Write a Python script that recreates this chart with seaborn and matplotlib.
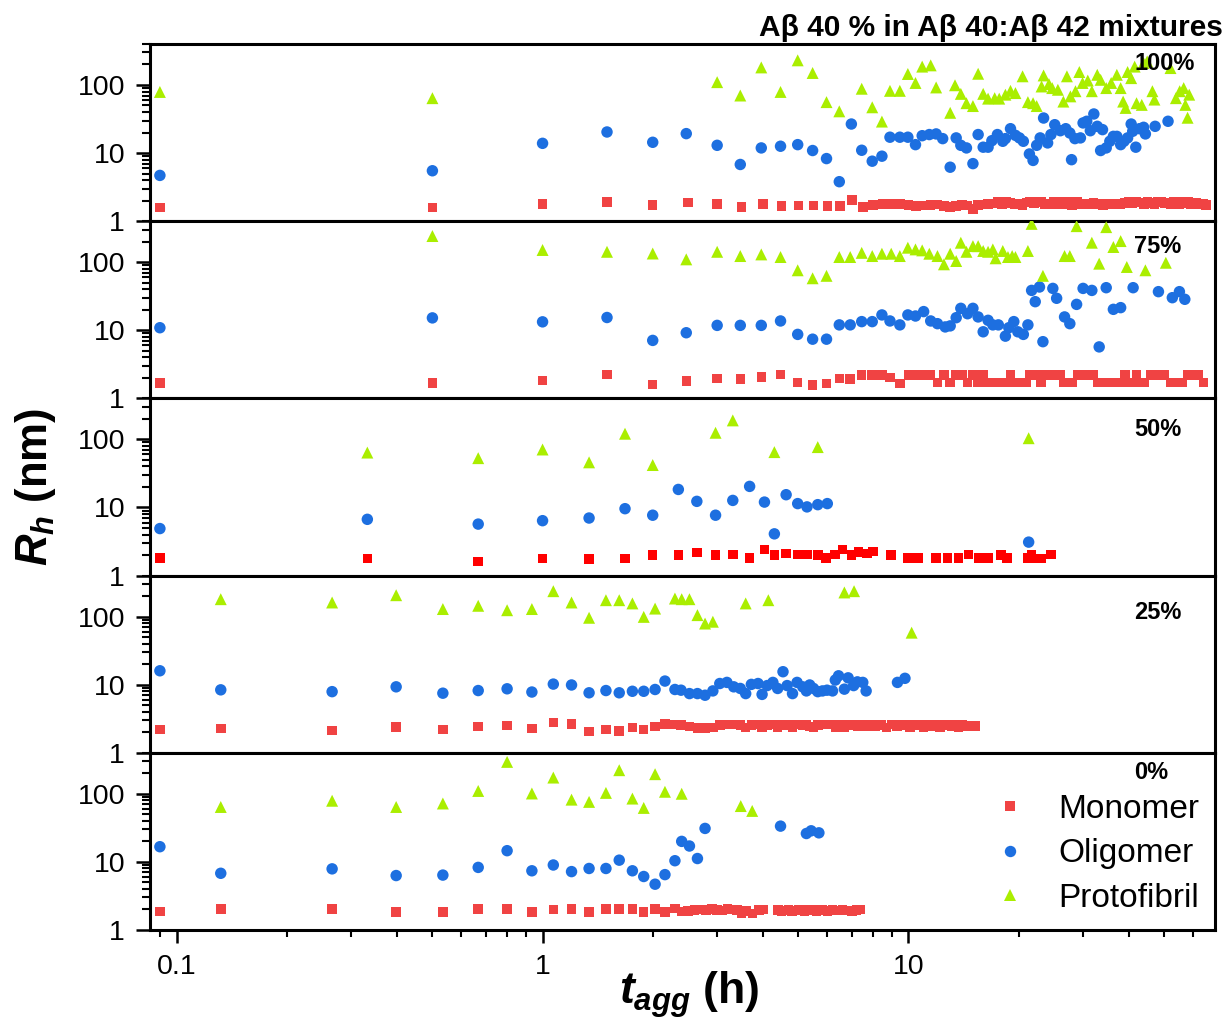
import matplotlib
matplotlib.use("Agg")
import matplotlib.pyplot as plt
from matplotlib.lines import Line2D
from matplotlib.ticker import LogLocator, NullFormatter
import numpy as np
import pandas as pd
import seaborn as sns

# ---------------- data ----------------
panel_labels = ["100%", "75%", "50%", "25%", "0%"]
species = ["Monomer", "Oligomer", "Protofibril"]
xtick_values = [0.1, 1, 10]
xtick_labels = ["0.1", "1", "10"]
ytick_values = [1, 10, 100]
ytick_labels = ["1", "10", "100"]

# ---- 100 % ----
p100_mono_t = [0.09, 0.5, 1.0, 1.5, 2.0, 2.5, 3.0, 3.5, 4.0, 4.5, 5.0, 5.5, 6.0, 6.5, 7.0, 7.5, 8.0, 8.5,
               9.0, 9.5, 10.0, 10.5, 11.0, 11.5, 12.0, 12.5, 13.0, 13.5, 14.0, 14.5, 15.0, 15.5, 16.0, 16.5,
               17.0, 17.5, 18.0, 18.5, 19.0, 19.5, 20.0, 20.5, 21.0, 21.5, 22.0, 22.5, 23.0, 23.5, 24.0, 24.5,
               25.0, 25.5, 26.0, 26.5, 27.0, 27.5, 28.0, 28.5, 29.0, 29.5, 30.0,
               31.0, 32.0, 33.0, 34.0, 35.0, 36.0, 37.0, 38.0, 39.0, 40.0, 41.0, 42.0, 43.0, 44.0, 45.0, 46.0,
               47.0, 48.0, 49.0, 50.0, 51.0, 52.0, 53.0, 54.0, 55.0, 56.0, 57.0, 58.0, 59.0, 60.0, 61.0, 62.0,
               63.0, 64.0, 65.0]
p100_mono_r = [1.59, 1.60, 1.79, 1.92, 1.74, 1.88, 1.79, 1.62, 1.79, 1.66, 1.70, 1.70, 1.66, 1.66, 2.03, 1.62, 1.72, 1.79,
               1.80, 1.78, 1.72, 1.66, 1.70, 1.74, 1.76, 1.66, 1.62, 1.68, 1.74, 1.70, 1.50, 1.72, 1.76, 1.78,
               1.82, 1.92, 1.80, 1.90, 1.85, 1.76, 1.80, 1.72, 1.88, 1.95, 1.82, 1.92, 1.95, 1.78, 1.82, 1.75,
               1.92, 1.95, 1.80, 1.76, 1.90, 1.85, 1.74, 1.92, 1.95, 1.80, 1.75,
               1.78, 1.85, 1.80, 1.74, 1.78, 1.82, 1.76, 1.80, 1.85, 1.90, 1.82, 1.95, 1.88, 1.80, 1.92, 1.85,
               1.78, 1.90, 1.95, 1.82, 1.88, 1.80, 1.92, 1.86, 1.78, 1.90, 1.84, 1.92, 1.80, 1.88, 1.85, 1.78,
               1.82, 1.80, 1.74]
p100_olig_t = [0.09, 0.5, 1.0, 1.5, 2.0, 2.47, 3.0, 3.47, 3.96, 4.47, 4.98, 5.47, 5.97, 6.47, 6.98, 7.45, 7.96,
               8.46, 8.9, 9.47, 9.96, 10.45, 10.9, 11.4, 11.9, 12.4, 13.0, 13.5, 13.9, 14.4, 15.0, 15.5, 16.0,
               16.5, 16.9, 17.5, 18.1, 18.4, 19.0, 19.6, 20.1, 20.6, 21.4, 21.9, 22.4, 22.9, 23.4, 24.0, 24.5,
               25.1, 26.0, 26.9, 27.6, 27.9, 28.5, 29.5, 30.0, 30.7, 31.4, 32.1, 32.8, 33.5, 33.9, 34.7, 35.5,
               36.3, 37.1, 38.0, 38.8, 39.7, 40.6, 41.0, 41.8, 42.8, 43.9, 44.4, 47.2, 51.2]
p100_olig_r = [4.7, 5.5, 13.9, 20.4, 14.4, 19.3, 13.0, 6.8, 11.9, 12.6, 13.3, 10.9, 8.3, 3.8, 26.7, 11.0, 7.6,
               9.0, 17.1, 17.1, 17.1, 13.3, 18.0, 18.7, 19.1, 16.3, 6.2, 16.7, 13.0, 11.9, 7.0, 18.7, 12.2,
               12.2, 15.2, 18.7, 14.9, 16.3, 22.8, 18.2, 16.7, 14.9, 9.7, 7.8, 13.0, 16.7, 32.7, 14.1, 18.7,
               26.1, 21.3, 22.8, 19.7, 8.0, 16.3, 16.7, 27.7, 29.3, 21.3, 37.5, 24.7, 10.9, 22.1, 11.9, 14.9,
               17.6, 17.6, 13.3, 14.9, 16.7, 26.7, 20.9, 12.2, 22.8, 23.9, 19.1, 24.7, 29.3]
p100_prot_t = [0.09, 0.5, 3.0, 3.47, 3.96, 4.47, 4.98, 5.47, 5.97, 6.47, 7.45, 7.96, 8.46, 8.9, 9.47, 9.96,
               10.45, 10.9, 11.5, 11.9, 13.0, 13.4, 13.9, 14.4, 15.0, 15.5, 16.0, 16.5, 17.2, 17.7, 18.4, 19.0,
               19.6, 20.5, 21.2, 21.9, 22.4, 23.1, 23.4, 24.2, 24.7, 25.6, 26.5, 27.1, 27.7, 28.6, 29.3, 29.9,
               30.9, 31.7, 32.8, 33.5, 34.7, 35.8, 37.1, 38.0, 38.6, 39.2, 39.7, 40.6, 41.5, 42.0, 43.4, 43.9,
               44.9, 46.4, 47.0, 52.0, 53.8, 55.1, 56.5, 57.1, 57.9, 58.5]
p100_prot_r = [79, 64, 110, 70, 181, 79, 230, 150, 56, 41, 88, 47, 29, 82, 82, 145,
               107, 186, 194, 92, 39, 99, 74, 54, 49, 146, 74, 63, 64, 63, 72, 82,
               76, 134, 56, 54, 49, 95, 138, 103, 90, 85, 57, 134, 68, 81, 155, 107,
               116, 81, 141, 119, 90, 107, 141, 90, 57, 46, 155, 126, 186, 54, 51, 210,
               222, 81, 61, 177, 64, 81, 90, 51, 33, 72]

# ---- 75 % ----
p75_mono_t = [0.09, 0.5, 1.0, 1.5, 2.0, 2.47, 3.0, 3.47, 3.96, 4.47, 4.98, 5.47, 5.97, 6.47, 6.93, 7.45, 7.96,
              8.46, 8.9, 9.47, 10.0, 10.5, 11.0, 11.5, 12.0, 12.5, 13.0, 13.5, 14.0, 14.5, 15.0, 15.5, 16.0,
              16.5, 17.0, 17.5, 18.0, 18.5, 19.0, 19.5, 20.0, 20.5, 21.0, 21.5, 22.0, 22.5, 23.0, 23.5, 24.0,
              24.5, 25.0, 25.5, 26.0, 26.5, 27.0, 27.5, 28.0, 29.0, 30.0, 31.0, 32.0, 33.0, 34.0, 35.0, 36.0,
              37.0, 38.0, 39.0, 40.0, 41.0, 42.0, 43.0, 44.0, 46.0, 48.0, 50.0, 52.0, 54.0, 56.0, 58.0, 60.0,
              62.0, 64.0]
p75_mono_r = [1.67, 1.67, 1.82, 2.26, 1.61, 1.81, 1.95, 1.91, 2.07, 2.26, 1.71, 1.56, 1.65, 1.97, 1.91, 2.19, 2.19,
              2.19, 2.02, 1.65, 2.19, 2.19, 2.19, 2.19, 1.71, 2.19, 1.71, 2.19, 2.19, 1.71, 2.19, 1.71, 2.19,
              1.71, 1.71, 1.71, 1.71, 1.71, 2.19, 1.71, 1.71, 1.71, 1.71, 2.19, 2.19, 2.19, 1.71, 2.19, 2.19,
              2.19, 2.19, 2.19, 2.19, 1.71, 1.71, 1.71, 1.71, 2.19, 2.19, 2.19, 2.19, 1.71, 1.71, 1.71, 1.71,
              1.71, 1.71, 2.19, 1.71, 1.71, 2.19, 1.71, 1.71, 2.19, 2.19, 2.19, 1.71, 1.71, 1.71, 2.19, 2.19,
              2.19, 1.71]
p75_olig_t = [0.09, 0.5, 1.0, 1.5, 2.0, 2.47, 3.0, 3.47, 3.96, 4.47, 4.98, 5.47, 5.97, 6.47, 6.93, 7.45, 7.96,
              8.46, 8.9, 9.47, 9.96, 10.45, 11.0, 11.5, 12.0, 12.6, 13.0, 13.5, 13.9, 14.5, 15.0, 15.5, 16.0,
              16.5, 17.0, 17.6, 18.4, 18.8, 19.4, 19.9, 20.6, 21.2, 21.7, 22.2, 22.8, 23.3, 24.8, 25.4, 26.7,
              27.6, 28.8, 30.0, 31.7, 33.2, 34.7, 36.3, 38.0, 41.1, 48.2, 52.6, 55.0, 56.9]
p75_olig_r = [10.9, 15.2, 13.3, 15.4, 7.1, 9.2, 11.8, 11.8, 11.8, 13.7, 8.7, 7.4, 7.4, 12.0, 12.0, 13.4, 13.4,
              16.8, 13.7, 12.0, 16.8, 16.2, 18.8, 13.7, 12.5, 11.2, 11.6, 15.3, 21.0, 17.5, 21.0, 15.7, 9.5,
              14.0, 12.0, 12.0, 8.2, 10.9, 13.4, 9.5, 8.7, 12.0, 38.5, 26.3, 43.2, 6.8, 41.2, 29.5, 15.7,
              12.5, 24.0, 41.2, 38.5, 5.7, 42.2, 20.3, 21.5, 42.2, 36.9, 30.1, 36.9, 28.5]
p75_prot_t = [0.5, 1.0, 1.5, 2.0, 2.47, 3.0, 3.47, 3.96, 4.47, 4.98, 5.47, 5.97, 6.47, 6.93, 7.45, 7.96, 8.46,
              8.97, 9.47, 9.96, 10.45, 10.9, 11.4, 12.0, 12.5, 13.0, 13.5, 13.9, 14.4, 15.0, 15.5, 16.0, 16.5,
              17.0, 17.3, 18.1, 18.7, 19.2, 19.6, 21.2, 21.7, 23.3, 26.7, 27.6, 28.8, 31.7, 33.2, 34.7, 36.3,
              38.0, 39.5, 44.4, 50.5]
p75_prot_r = [242, 151, 142, 134, 110, 142, 123, 130, 119, 76, 58, 63, 119, 119, 137, 123, 133,
              133, 123, 163, 154, 149, 133, 123, 93, 133, 104, 193, 142, 172, 172, 146, 142,
              154, 114, 146, 119, 123, 119, 146, 365, 63, 123, 123, 338, 193, 95, 327, 167,
              204, 85, 76, 98]

# ---- 50 % ----
p50_mono_t = [0.09, 0.332, 0.667, 1.0, 1.34, 1.68, 2.0, 2.35, 2.64, 2.97, 3.31, 3.68, 4.04, 4.3, 4.63, 4.98,
              5.28, 5.65, 5.95, 6.3, 6.6, 6.98, 7.3, 7.7, 8.0, 8.97, 9.98, 10.6, 11.9, 12.8, 13.7, 14.6, 15.6,
              16.5, 17.9, 18.6, 21.2, 21.7, 22.4, 23.1, 24.5]
p50_mono_r = [1.82, 1.78, 1.62, 1.78, 1.74, 1.78, 1.99, 1.99, 2.17, 1.99, 2.03, 1.82, 2.43, 1.99, 2.10, 2.03,
              2.03, 1.99, 1.82, 2.03, 2.43, 1.99, 2.22, 2.10, 2.27, 1.99, 1.82, 1.82, 1.82, 1.82, 1.82, 2.03, 1.82,
              1.82, 1.99, 1.82, 1.82, 1.99, 1.78, 1.78, 2.03]
p50_olig_t = [0.09, 0.332, 0.667, 1.0, 1.34, 1.68, 2.0, 2.35, 2.64, 2.97, 3.31, 3.68, 4.04, 4.3, 4.63, 4.98,
              5.28, 5.65, 6.0, 21.3]
p50_olig_r = [4.9, 6.7, 5.7, 6.4, 7.0, 9.6, 7.7, 18.4, 12.3, 7.7, 12.7, 20.4, 12.0, 4.1, 15.4, 11.4,
              10.2, 11.0, 11.4, 3.1]
p50_prot_t = [0.332, 0.667, 1.0, 1.34, 1.68, 2.0, 2.97, 3.31, 4.3, 5.65, 21.3]
p50_prot_r = [64, 53, 71, 46, 121, 42, 125, 190, 65, 77, 104]

# ---- 25 % ----
p25_mono_t = [0.09, 0.132, 0.266, 0.398, 0.534, 0.667, 0.8, 0.935, 1.07, 1.2, 1.34, 1.49, 1.62, 1.76, 1.89,
              2.03, 2.16, 2.3, 2.39, 2.52, 2.65, 2.78, 2.92, 3.05, 3.19, 3.33, 3.47, 3.59, 3.72, 3.88, 3.98,
              4.11, 4.26, 4.39, 4.54, 4.66, 4.82, 4.96, 5.14, 5.26, 5.37, 5.5, 5.65, 5.82, 5.99, 6.2, 6.31,
              6.44, 6.68, 6.84, 7.08, 7.25, 7.5, 7.66, 7.9, 8.1, 8.4, 8.7, 9.0, 9.3, 9.6, 9.8, 10.1, 10.4,
              10.7, 11.0, 11.3, 11.6, 11.9, 12.2, 12.5, 12.8, 13.1, 13.4, 13.7, 14.0, 14.3, 14.6, 14.9, 15.2]
p25_mono_r = [2.21, 2.29, 2.14, 2.37, 2.21, 2.45, 2.50, 2.29, 2.77, 2.65, 2.04, 2.21, 2.09, 2.34, 2.21,
              2.42, 2.65, 2.62, 2.55, 2.45, 2.30, 2.30, 2.35, 2.55, 2.60, 2.60, 2.58, 2.35, 2.58, 2.60, 2.35,
              2.58, 2.60, 2.35, 2.58, 2.58, 2.35, 2.60, 2.58, 2.60, 2.45, 2.35, 2.58, 2.60, 2.62, 2.60, 2.35,
              2.58, 2.35, 2.60, 2.58, 2.42, 2.55, 2.45, 2.60, 2.45, 2.58, 2.35, 2.60, 2.42, 2.58, 2.62, 2.40,
              2.58, 2.60, 2.40, 2.58, 2.45, 2.60, 2.38, 2.58, 2.60, 2.42, 2.58, 2.40, 2.58, 2.45, 2.50, 2.42, 2.48]
p25_olig_t = [0.09, 0.132, 0.266, 0.398, 0.534, 0.667, 0.8, 0.935, 1.07, 1.2, 1.34, 1.49, 1.62, 1.76, 1.89,
              2.03, 2.16, 2.3, 2.39, 2.52, 2.65, 2.78, 2.92, 3.05, 3.19, 3.33, 3.47, 3.59, 3.72, 3.88, 3.98,
              4.11, 4.26, 4.39, 4.54, 4.66, 4.82, 4.96, 5.14, 5.26, 5.37, 5.5, 5.65, 5.82, 5.99, 6.2, 6.31,
              6.44, 6.68, 6.84, 7.08, 7.25, 7.5, 7.66, 9.33, 9.78]
p25_olig_r = [16.0, 8.4, 7.9, 9.3, 7.5, 8.2, 8.7, 7.8, 10.2, 9.9, 7.6, 8.2, 7.6, 8.0, 8.0,
              8.5, 11.3, 8.5, 8.3, 7.4, 7.4, 7.0, 8.1, 10.4, 10.8, 9.3, 8.8, 7.4, 10.1, 10.4, 7.2,
              9.7, 10.8, 8.8, 15.5, 9.7, 7.4, 10.8, 9.3, 8.1, 9.9, 8.8, 7.9, 8.1, 8.3, 8.1, 11.7,
              13.5, 8.6, 12.6, 9.7, 11.0, 10.8, 8.1, 10.8, 12.4]
p25_prot_t = [0.132, 0.266, 0.398, 0.534, 0.667, 0.8, 0.935, 1.07, 1.2, 1.34, 1.49, 1.62, 1.76, 1.89, 2.03,
              2.3, 2.4, 2.52, 2.65, 2.78, 2.92, 3.59, 4.14, 6.68, 7.1, 10.2]
p25_prot_r = [180, 161, 206, 129, 144, 124, 129, 236, 161, 96, 174, 174, 156, 99, 131,
              184, 180, 180, 105, 79, 84, 156, 174, 226, 236, 58]

# ---- 0 % ----
p0_mono_t = [0.09, 0.132, 0.266, 0.398, 0.534, 0.667, 0.8, 0.935, 1.07, 1.2, 1.34, 1.49, 1.62, 1.76, 1.89,
             2.03, 2.16, 2.3, 2.4, 2.5, 2.6, 2.7, 2.8, 2.9, 3.0, 3.1, 3.2, 3.3, 3.4, 3.5, 3.6, 3.75, 3.9, 4.0,
             4.4, 4.5, 4.6, 4.7, 4.8, 4.9, 5.0, 5.1, 5.2, 5.3, 5.4, 5.5, 5.6, 5.7, 5.8, 5.9, 6.0, 6.2, 6.4,
             6.6, 6.8, 7.0, 7.2, 7.4]
p0_mono_r = [1.86, 2.03, 2.03, 1.84, 1.84, 2.03, 2.03, 1.84, 2.01, 2.03, 1.84, 2.03, 2.03, 2.03, 1.84,
             2.03, 1.84, 2.08, 1.86, 1.90, 1.95, 2.00, 1.95, 2.05, 1.98, 1.92, 2.02, 2.00, 1.95, 1.76, 1.90,
             1.76, 1.95, 2.00, 1.95, 1.90, 1.92, 1.95, 1.90, 1.92, 1.95, 1.92, 1.90, 1.95, 1.92, 1.95, 1.90,
             1.92, 1.95, 1.92, 1.90, 1.95, 1.92, 1.95, 1.92, 1.90, 1.95, 2.00]
p0_olig_t = [0.09, 0.132, 0.266, 0.398, 0.534, 0.667, 0.8, 0.935, 1.07, 1.2, 1.34, 1.49, 1.62, 1.76, 1.89,
             2.03, 2.16, 2.3, 2.4, 2.52, 2.65, 2.78, 4.47, 5.26, 5.42, 5.69]
p0_olig_r = [16.7, 6.8, 7.9, 6.3, 6.4, 8.3, 14.6, 7.4, 9.0, 7.2, 8.0, 8.0, 10.6, 7.4, 6.1,
             4.7, 6.5, 10.4, 20.0, 17.1, 11.2, 31.0, 33.5, 26.1, 28.6, 26.7]
p0_prot_t = [0.132, 0.266, 0.398, 0.534, 0.667, 0.8, 0.935, 1.07, 1.2, 1.34, 1.49, 1.62, 1.76, 1.89, 2.03,
             2.16, 2.4, 3.48, 3.74]
p0_prot_r = [64, 79, 64, 72, 110, 294, 101, 173, 82, 76, 103, 222, 85, 62, 194,
             107, 100, 66, 56]

# ---------------- build a tidy table ----------------
series = {
    "100%": [(p100_mono_t, p100_mono_r), (p100_olig_t, p100_olig_r), (p100_prot_t, p100_prot_r)],
    "75%": [(p75_mono_t, p75_mono_r), (p75_olig_t, p75_olig_r), (p75_prot_t, p75_prot_r)],
    "50%": [(p50_mono_t, p50_mono_r), (p50_olig_t, p50_olig_r), (p50_prot_t, p50_prot_r)],
    "25%": [(p25_mono_t, p25_mono_r), (p25_olig_t, p25_olig_r), (p25_prot_t, p25_prot_r)],
    "0%": [(p0_mono_t, p0_mono_r), (p0_olig_t, p0_olig_r), (p0_prot_t, p0_prot_r)],
}
frames = []
for pl, lst in series.items():
    for sp, (t, r) in zip(species, lst):
        frames.append(pd.DataFrame({"panel": pl, "species": sp, "t": t, "Rh": r}))
df = pd.concat(frames, ignore_index=True)

# ---------------- styling ----------------
sns.set_theme(style="ticks")
plt.rcParams["font.family"] = ["Liberation Sans", "DejaVu Sans"]
plt.rcParams["mathtext.fontset"] = "custom"
plt.rcParams["mathtext.it"] = "Liberation Sans:italic:bold"
plt.rcParams["mathtext.rm"] = "Liberation Sans:bold"
plt.rcParams["mathtext.bf"] = "Liberation Sans:bold"
for key in ["text.color", "axes.labelcolor", "xtick.color", "ytick.color", "axes.edgecolor"]:
    plt.rcParams[key] = "black"

red = "#F04343"
red_pure = "#FF0000"
blue = "#1D6FE0"
green = "#AAEE00"
markers = {"Monomer": "s", "Oligomer": "o", "Protofibril": "^"}
sizes = {"Monomer": 47, "Oligomer": 68, "Protofibril": 74}
label_y = {"100%": 0.887, "75%": 0.859, "50%": 0.823, "25%": 0.79, "0%": 0.89}

fig, axes = plt.subplots(5, 1, figsize=(12.29, 10.25), dpi=100, sharex=True)
fig.subplots_adjust(left=0.1221, right=0.9886, top=0.9571, bottom=0.0927, hspace=0)

for ax, pl in zip(axes, panel_labels):
    sub = df[df["panel"] == pl]
    colors = {"Monomer": red_pure if pl == "50%" else red, "Oligomer": blue, "Protofibril": green}
    for sp in species:
        d = sub[sub["species"] == sp]
        sns.scatterplot(data=d, x="t", y="Rh", ax=ax, marker=markers[sp], s=sizes[sp],
                        color=colors[sp], edgecolor="none", linewidth=0, legend=False, zorder=3)
    ax.set_xscale("log")
    ax.set_yscale("log")
    ax.set_xlim(0.0846, 68.8)
    ax.set_ylim(1, 400)
    ax.set_xlabel("")
    ax.set_ylabel("")
    ax.set_yticks(ytick_values, labels=ytick_labels)
    ax.yaxis.set_minor_locator(LogLocator(base=10, subs=[2, 3, 4, 5, 6, 7, 8, 9], numticks=50))
    ax.yaxis.set_minor_formatter(NullFormatter())
    for s in ax.spines.values():
        s.set_linewidth(2.2)
        s.set_color("black")
        s.set_visible(True)
    ax.tick_params(axis="y", which="major", direction="out", length=10, width=1.8,
                   labelsize=20.5, pad=8, colors="black", left=True, right=False)
    ax.tick_params(axis="y", which="minor", direction="out", length=5.5, width=1.5,
                   left=True, right=False, colors="black")
    ax.tick_params(axis="x", which="major", direction="out", length=9, width=1.8,
                   labelsize=20.5, pad=8, colors="black", bottom=True, top=False)
    ax.tick_params(axis="x", which="minor", direction="out", length=5, width=1.5,
                   bottom=True, top=False, colors="black")
    ax.text(0.924, label_y[pl], pl, transform=ax.transAxes, ha="left", va="center",
            fontsize=17, fontweight="bold", color="black", zorder=5)

axes[-1].set_xticks(xtick_values, labels=xtick_labels)
axes[-1].xaxis.set_minor_locator(LogLocator(base=10, subs=[2, 3, 4, 5, 6, 7, 8, 9], numticks=50))
axes[-1].xaxis.set_minor_formatter(NullFormatter())

handles = [Line2D([], [], linestyle="none", marker="s", markersize=6.9, color=red, markeredgewidth=0),
           Line2D([], [], linestyle="none", marker="o", markersize=8.2, color=blue, markeredgewidth=0),
           Line2D([], [], linestyle="none", marker="^", markersize=8.6, color=green, markeredgewidth=0)]
leg = axes[-1].legend(handles, species, loc="center left", bbox_to_anchor=(0.756, 0.43),
                      frameon=False, fontsize=24, handlelength=1.5, handletextpad=0.7,
                      labelspacing=0.4, borderpad=0.4, numpoints=1)
for txt in leg.get_texts():
    txt.set_color("black")

fig.text(0.995, 0.973, "Aβ 40 % in Aβ 40:Aβ 42 mixtures", ha="right", va="center",
         fontsize=21.5, fontweight="bold", color="black")
fig.text(0.029, 0.525, r"$R_h$ (nm)", rotation=90, ha="center", va="center",
         fontsize=31.5, fontweight="bold", color="black")
fig.text(0.561, 0.03, r"$t_{agg}$ (h)", ha="center", va="center",
         fontsize=32, fontweight="bold", color="black")

fig.savefig("out.png", dpi=100)
